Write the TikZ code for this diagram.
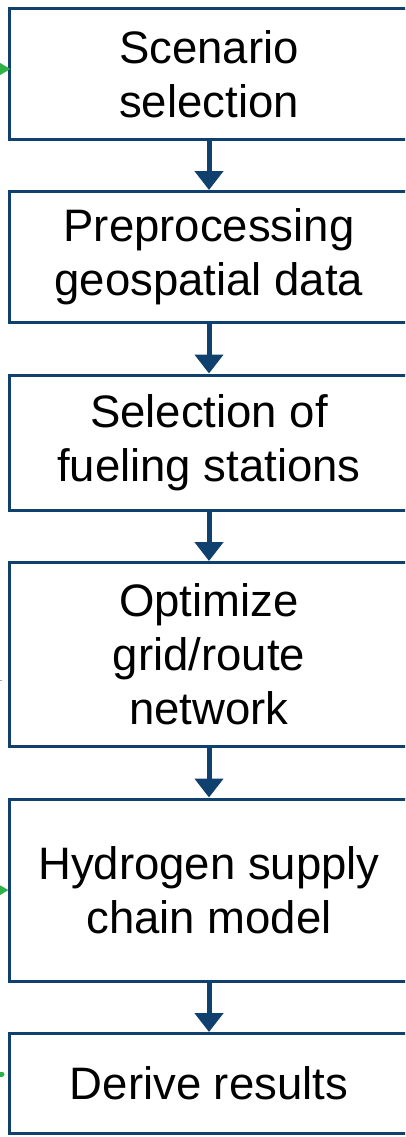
\documentclass[tikz,border=0pt]{standalone}
\usepackage{fontspec}
\setmainfont{Liberation Sans}
\usetikzlibrary{positioning,arrows.meta}

\definecolor{stageblue}{RGB}{16,64,110}
\definecolor{inputgreen}{RGB}{46,178,72}

\begin{document}
\begin{tikzpicture}[
    x=1pt, y=1pt,
    stage/.style = {draw=stageblue, line width=3pt, minimum width=400pt, align=center,
                    font=\fontsize{45.5}{54}\selectfont, inner sep=0pt},
    flow/.style = {draw=stageblue, line width=5pt, -{Triangle[length=19pt,width=28pt]}},
    feed/.style = {draw=inputgreen, line width=2.5pt, -{Triangle[length=11pt,width=12pt]}},
    node distance=49.5pt
    ]
    \useasboundingbox (0,0) rectangle (405,-1137);
    \clip (0,0) rectangle (405,-1137);

    \node[stage, minimum height=130pt] (scenario) at (209,-74) {Scenario\\selection};
    \node[stage, minimum height=131pt, below=of scenario] (preproc) {Preprocessing\\geospatial data};
    \node[stage, minimum height=135pt, below=of preproc] (stations) {Selection of\\fueling stations};
    \node[stage, minimum height=184pt, below=of stations] (network) {Optimize\\grid/route\\network};
    \node[stage, minimum height=182pt, below=of network] (h2chain) {Hydrogen supply\\chain model};
    \node[stage, minimum height=100pt, below=of h2chain] (results) {Derive results};

    \coordinate (in1) at (-40,-69);
    \coordinate (in2) at (-40,-680);
    \coordinate (in3) at (-40,-891);
    \coordinate (in4) at (-40,-1074);
    \coordinate (end4) at (2,-1074);
    \coordinate (end2) at (2,-680);

    \draw[flow] (scenario) -- (preproc);
    \draw[flow] (preproc) -- (stations);
    \draw[flow] (stations) -- (network);
    \draw[flow] (network) -- (h2chain);
    \draw[flow] (h2chain) -- (results);

    \draw[feed] (in1) -- ([yshift=5pt,xshift=3pt]scenario.west);
    \draw[feed] (in3) -- ([xshift=1pt]h2chain.west);
    \draw[draw=inputgreen, line width=5pt, line cap=round] (in4) -- (end4);
    \draw[draw=gray!70, line width=0.8pt] (in2) -- (end2);
\end{tikzpicture}
\end{document}
